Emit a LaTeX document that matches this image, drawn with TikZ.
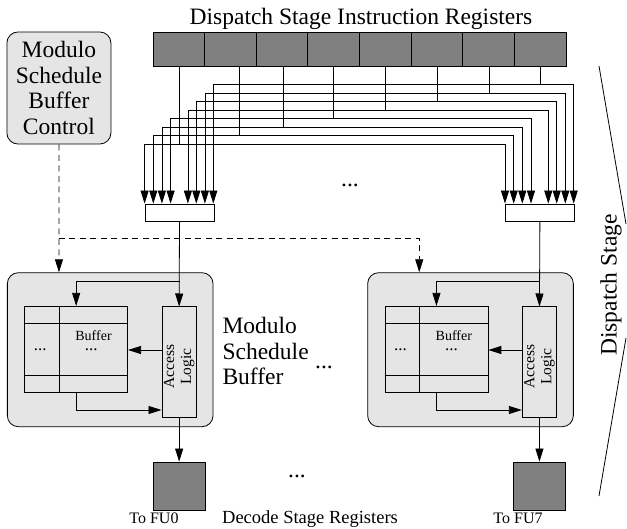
\documentclass[tikz,border=0pt]{standalone}
\usepackage{fontspec}
\setmainfont{Liberation Serif}
\usetikzlibrary{arrows.meta,calc}
\definecolor{regfill}{gray}{0.5}
\definecolor{boxfill}{gray}{0.9}
\begin{document}
\begin{tikzpicture}[x=1pt,y=-1pt,
  wire/.style={line width=0.8pt},
  arr/.style={wire,-{Triangle[length=13pt,width=8pt]}},
  dbl/.style={wire,{Triangle[length=13pt,width=8pt]}-{Triangle[length=13pt,width=8pt]}},
  ctlwire/.style={wire,dash pattern=on 6pt off 4.5pt},
  cell/.style={draw,line width=0.8pt,fill=regfill,minimum width=51.6pt,minimum height=34pt,inner sep=0pt},
  decreg/.style={draw,line width=0.8pt,fill=regfill,minimum width=52pt,minimum height=48pt,inner sep=0pt},
  mux/.style={draw,line width=0.8pt,fill=white,minimum width=69pt,minimum height=17pt,inner sep=0pt},
  rbox/.style={draw,line width=0.8pt,fill=boxfill,rounded corners=11pt,inner sep=0pt},
  tablebox/.style={draw,line width=0.8pt,minimum width=103pt,minimum height=86.3pt,inner sep=0pt},
  logicbox/.style={draw,line width=0.8pt,minimum width=34.4pt,minimum height=111pt,inner sep=0pt},
  big/.style={font=\fontsize{23.5}{25.5}\selectfont},
  dec/.style={font=\fontsize{18.5}{20}\selectfont},
  mid/.style={font=\fontsize{16}{17}\selectfont},
  small/.style={font=\fontsize{14}{16}\selectfont,inner sep=0pt},
  tdots/.style={font=\fontsize{17}{18}\selectfont,inner sep=0pt},
  lgc/.style={font=\fontsize{15.5}{17}\selectfont},
]
\useasboundingbox (0,0) rectangle (627,529);

% title and instruction register bank
\node[big,anchor=base] (title) at (361,25) {Dispatch Stage Instruction Registers};
\foreach \i in {1,...,8}
  \node[cell] (r\i) at ({153+51.625*(\i-0.5)},49.7) {};

% schedule buffer control
\node[rbox,big,align=center,minimum width=104pt,minimum height=112pt] (ctl) at (58.9,88) {Modulo\\Schedule\\Buffer\\Control};

% input selectors
\node[mux] (m0) at (179.5,212.5) {};
\node[mux] (m7) at (539.9,212.5) {};
\node[big] (dotsA) at (350,185) {...};

% register fan-out: cell / drop offset / level / selector input offset
\foreach \i/\dx/\lv/\o in {1/1/144/0, 2/8.5/135.5/8.7, 3/1/127/17.3, 4/0/118.5/26,
                          5/0.5/110/43.3, 6/0/101.5/51.7, 7/0.5/93/60.3, 8/0/84.5/68.7} {
  \coordinate (T\i) at ($(r\i.south)+(\dx,0)$);
  \coordinate (L\i) at ($(m0.north west)+(\o,0)$);
  \coordinate (R\i) at ($(m7.north west)+(\o,0)$);
  \draw[wire] (T\i) -- (T\i |- 0,\lv);
  \draw[dbl] (L\i) -- (L\i |- 0,\lv) -- (R\i |- 0,\lv) -- (R\i);
}

% modulo schedule buffers
\foreach \k/\cx in {0/110.2, 7/470.5} {
  \node[rbox,minimum width=205.7pt,minimum height=154pt] (msb\k) at (\cx,349.7) {};
  \node[tablebox] (buf\k) at ($(msb\k.north west)+(69.2,77.2)$) {};
  \node[logicbox] (al\k) at ($(msb\k.north west)+(172.2,90.1)$) {};
  \draw[wire] ($(buf\k.north west)+(35,0)$) -- ($(buf\k.south west)+(35,0)$);
  \draw[wire] ($(buf\k.north west)+(0,17.3)$) -- ($(buf\k.north east)+(0,17.3)$);
  \draw[wire] ($(buf\k.south west)+(0,-17.3)$) -- ($(buf\k.south east)+(0,-17.3)$);
  \node[small,anchor=base] (bt\k) at ($(buf\k.north west)+(69.3,34.5)$) {Buffer};
  \node[tdots,anchor=base] (bd\k) at ($(buf\k.north west)+(67,45)$) {...};
  \node[tdots,anchor=base] (ld\k) at ($(buf\k.north west)+(16,45)$) {...};
  \node[lgc,rotate=90,align=center] (at\k) at ($(al\k.center)+(0,4)$) {Access\\Logic};
  % selector output into access logic, with a branch to the buffer
  \draw[arr] (m\k.south) -- (al\k.north);
  \draw[arr] (m\k.south |- 0,281.7) -| (buf\k.north);
  \draw[arr] (al\k.west |- 0,350) -- (buf\k.east |- 0,350);
  \draw[arr] (buf\k.south) |- (al\k.west |- 0,410);
  % decode stage register
  \node[decreg] (d\k) at (al\k.south |- 0,486) {};
  \draw[arr] (al\k.south) -- (d\k.north);
}
\node[big,align=left,anchor=north west] (msblabel) at (219,314) {Modulo\\Schedule\\Buffer};
\node[big] (dotsB) at (324,367) {...};

% control lines
\coordinate (cin0) at ($(msb0.north west)+(52,0)$);
\coordinate (cin7) at ($(msb7.north west)+(52,0)$);
\draw[ctlwire,-{Triangle[length=13pt,width=8pt]}] (ctl.south) -- (cin0);
\draw[ctlwire,-{Triangle[length=13pt,width=8pt]}] (ctl.south |- 0,238.3) -| (cin7);

% decode stage labels
\node[big] (dotsC) at (297,476) {...};
\node[mid,anchor=base] (fu0) at (154,523) {To FU0};
\node[mid,anchor=base] (fu7) at (518,523) {To FU7};
\node[dec,anchor=base] (declabel) at (310,523) {Decode Stage Registers};

% dispatch stage bracket
\coordinate (sa) at (599,66);
\coordinate (sb) at (626,224);
\coordinate (sc) at (626,338);
\coordinate (sd) at (599,496);
\draw[wire] (sa) -- (sb);
\draw[wire] (sc) -- (sd);
\node[big,rotate=90] (stage) at (611,285) {Dispatch Stage};
\end{tikzpicture}
\end{document}
